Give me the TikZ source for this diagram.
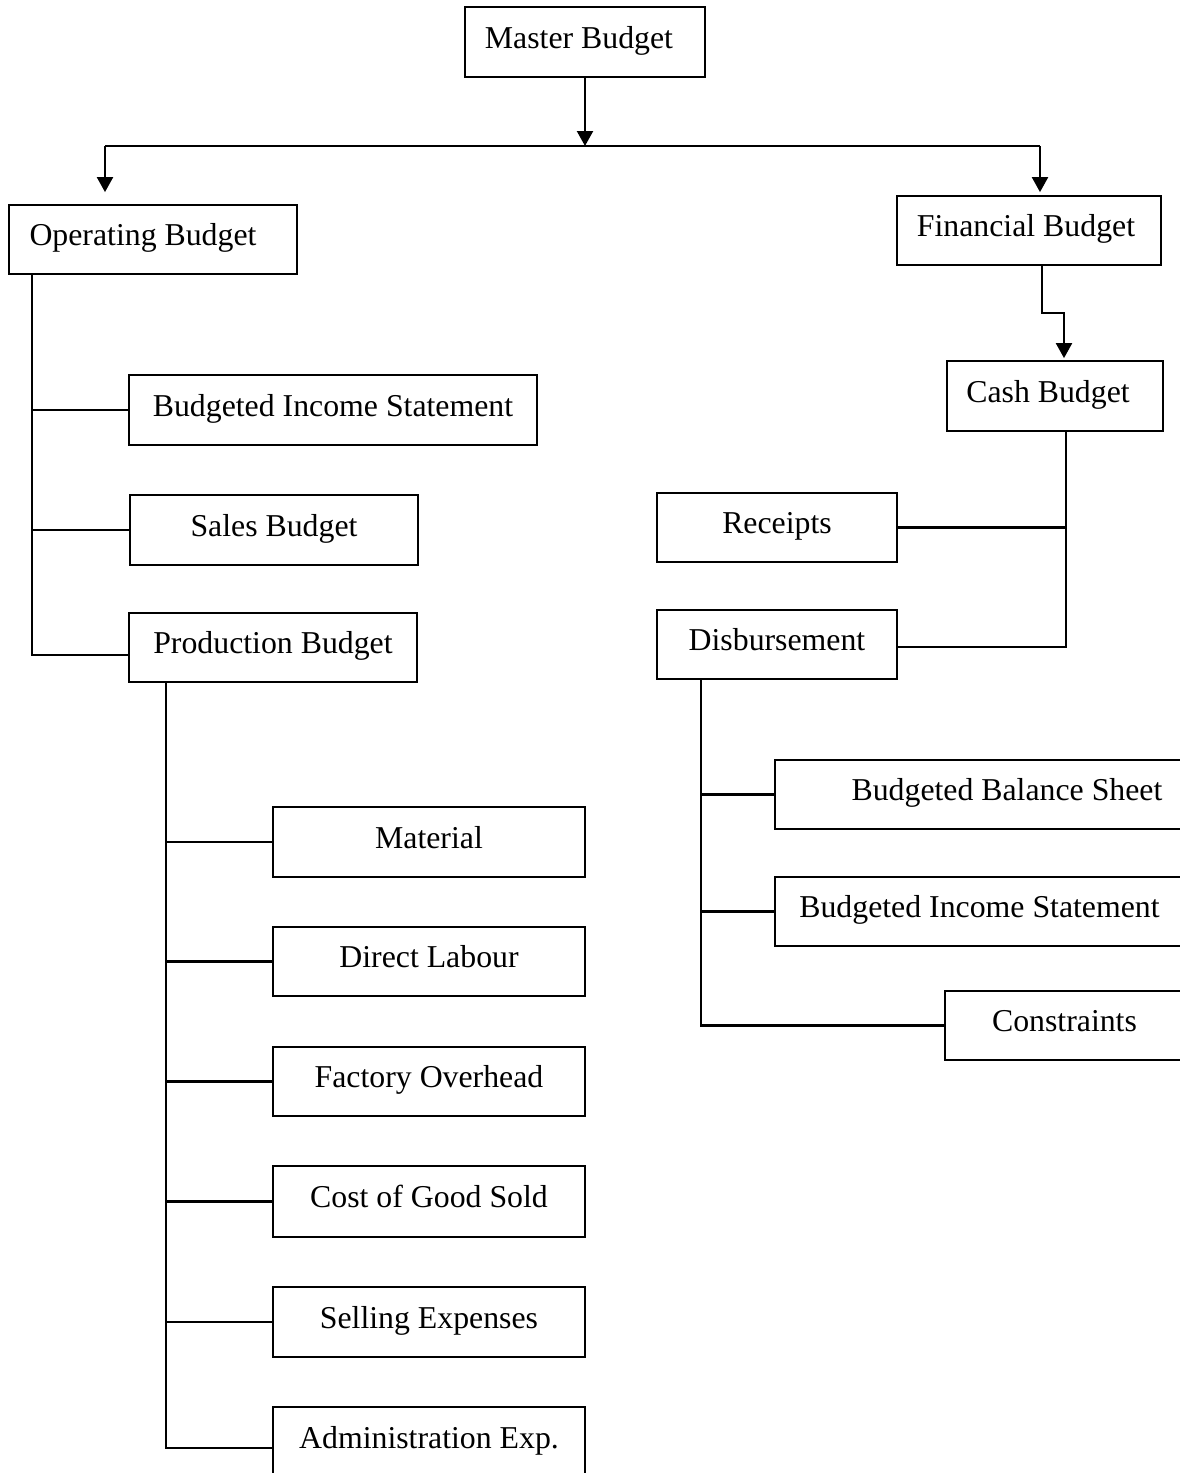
\documentclass[tikz,border=0pt]{standalone}
\usepackage{fontspec}
\setmainfont{Liberation Serif}
\usetikzlibrary{arrows.meta}

\begin{document}
\begin{tikzpicture}[x=1pt,y=-1pt]
	\tikzstyle{every node}+=[font=\fontsize{31.8}{36}\selectfont]
	\tikzstyle{bbox}=[draw=black, line width=1.8pt, rectangle, inner sep=0pt, text height=22pt, text depth=10pt, minimum height=70pt]
	\tikzstyle{link}=[black, line width=2.2pt]
	\tikzstyle{arr}=[link, -{Triangle[length=15pt,width=16pt]}]
	\useasboundingbox (0,0) rectangle (1180,1473);
	\clip (0,0) rectangle (1180,1473);
	% top level
	\node [bbox, minimum width=240pt] (master) at (585,42) {Master Budget\hspace*{12pt}};
	\node [bbox, minimum width=288pt, minimum height=69pt] (oper) at (153,239.5) {Operating Budget\hspace*{20pt}};
	\node [bbox, minimum width=264pt, minimum height=69pt] (fin) at (1029,230.5) {Financial Budget\hspace*{6pt}};
	\coordinate (busL) at (105,146);
	\coordinate (busR) at (1040,146);
	\draw [link] (busL) -- (busR);
	\draw [arr] (master.south) -- (master.south |- busL);
	\draw [arr, shorten >=12pt] (busL) -- (busL |- oper.north);
	\draw [arr, shorten >=3pt] (busR) -- (busR |- fin.north);
	% operating side
	\node [bbox, minimum width=408pt] (incomeL) at (333,410) {Budgeted Income Statement};
	\node [bbox, minimum width=288pt] (sales) at (274,530) {Sales Budget};
	\node [bbox, minimum width=288pt, minimum height=69pt] (prod) at (273,647.5) {Production Budget};
	\coordinate (opertrunk) at ([xshift=24pt]oper.south west);
	\draw [link] (opertrunk) |- ([yshift=-7.5pt]prod.west);
	\draw [link] (opertrunk |- incomeL.west) -- (incomeL.west);
	\draw [link] (opertrunk |- sales.west) -- (sales.west);
	% production costs
	\node [bbox, minimum width=312pt] (mat) at (429,842) {Material};
	\node [bbox, minimum width=312pt, minimum height=69pt] (labour) at (429,961.5) {Direct Labour};
	\node [bbox, minimum width=312pt, minimum height=69pt] (overhead) at (429,1081.5) {Factory Overhead};
	\node [bbox, minimum width=312pt, minimum height=71pt] (cogs) at (429,1201.5) {Cost of Good Sold};
	\node [bbox, minimum width=312pt] (selling) at (429,1322) {Selling Expenses};
	\node [bbox, minimum width=312pt] (admin) at (429,1442) {Administration Exp.};
	\coordinate (prodtrunk) at ([xshift=38pt]prod.south west);
	\draw [link] (prodtrunk) |- ([yshift=-6pt]admin.west);
	\draw [link] (prodtrunk |- mat.west) -- (mat.west);
	\draw [link] (prodtrunk |- labour.west) -- (labour.west);
	\draw [link] (prodtrunk |- overhead.west) -- (overhead.west);
	\draw [link] (prodtrunk |- cogs.west) -- (cogs.west);
	\draw [link] (prodtrunk |- selling.west) -- (selling.west);
	% financial side
	\node [bbox, minimum width=216pt] (cash) at (1055,396) {Cash Budget\hspace*{14pt}};
	\draw [arr, shorten >=2pt] ([xshift=13pt]fin.south) -- ++(0,47) -| ([xshift=9pt]cash.north);
	\node [bbox, minimum width=240pt, minimum height=69pt] (receipts) at (777,527.5) {Receipts};
	\node [bbox, minimum width=240pt, minimum height=69pt] (disb) at (777,644.5) {Disbursement};
	\coordinate (cashtrunk) at ([xshift=11pt]cash.south);
	\draw [link] (cashtrunk) |- ([yshift=-2.5pt]disb.east);
	\draw [link] (cashtrunk |- receipts.east) -- (receipts.east);
	\node [bbox, minimum width=409pt, minimum height=69pt] (balance) at (979.5,794.5) {\hspace*{55pt}Budgeted Balance Sheet};
	\node [bbox, minimum width=409pt, minimum height=69pt] (incomeR) at (979.5,911.5) {Budgeted Income Statement};
	\node [bbox, minimum width=239pt, minimum height=69pt] (constr) at (1064.5,1025.5) {Constraints};
	\coordinate (disbtrunk) at ([xshift=45pt]disb.south west);
	\draw [link] (disbtrunk) |- (constr.west);
	\draw [link] (disbtrunk |- balance.west) -- (balance.west);
	\draw [link] (disbtrunk |- incomeR.west) -- (incomeR.west);
\end{tikzpicture}
\end{document}
